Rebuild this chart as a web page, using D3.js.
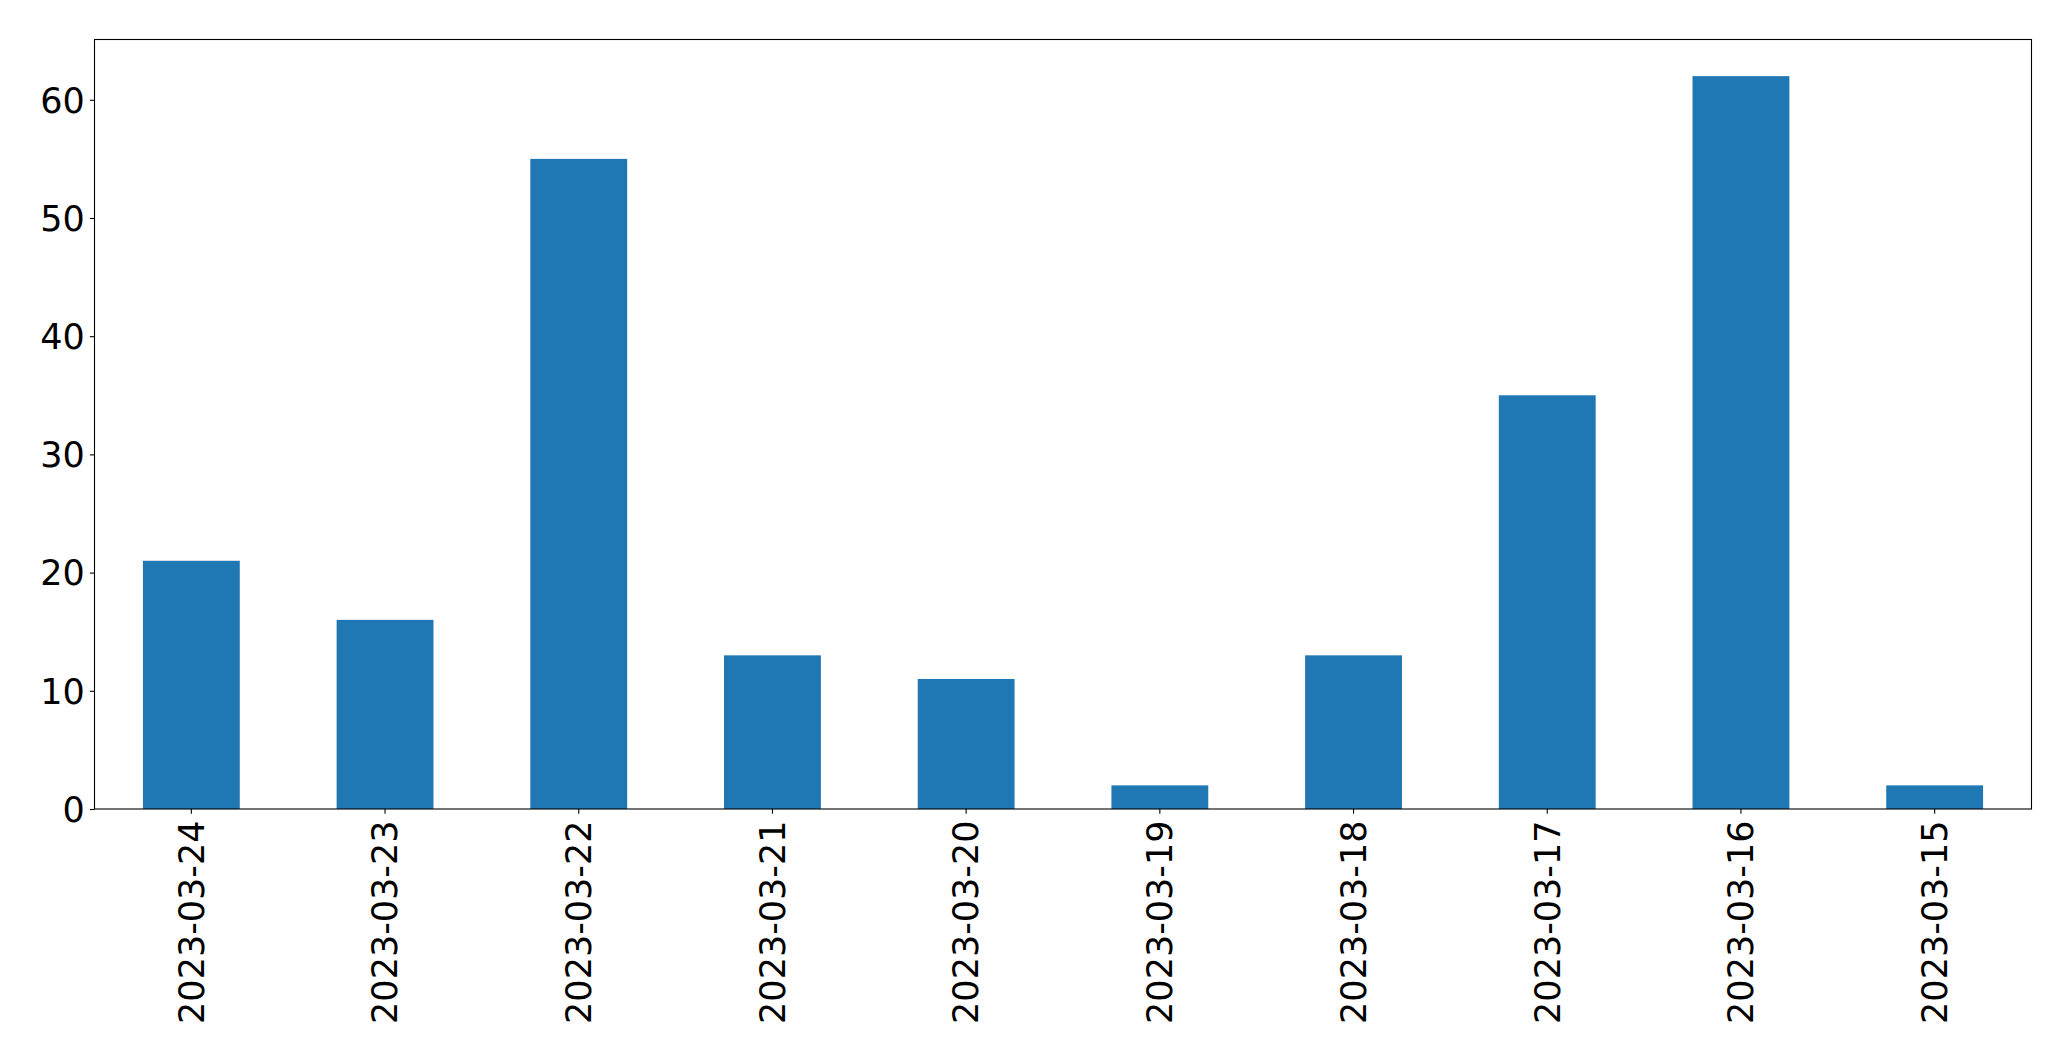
<!DOCTYPE html>
<html>
<head>
<meta charset="utf-8">
<script src="https://cdn.jsdelivr.net/npm/d3@7"></script>
<style>
html,body{margin:0;padding:0;background:#fff;}
svg{display:block;}
text{font-family:"DejaVu Sans",sans-serif;fill:#000;}
</style>
</head>
<body>
<svg id="chart" width="2071" height="1061"></svg>
<script>
const categories = ["2023-03-24","2023-03-23","2023-03-22","2023-03-21","2023-03-20","2023-03-19","2023-03-18","2023-03-17","2023-03-16","2023-03-15"];
const values = [21, 16, 55, 13, 11, 2, 13, 35, 62, 2];
const yTicks = [0, 10, 20, 30, 40, 50, 60];

const W = 2071, H = 1061;
const mLeft = 94.5, mRight = 2031.5, mTop = 39.5, mBottom = 809;
const svg = d3.select("#chart");

const x = d3.scaleBand().domain(categories).range([mLeft, mRight]).paddingInner(0.5).paddingOuter(0.25);
const yMax = d3.max(values) * 1.05;
const y = d3.scaleLinear().domain([0, yMax]).range([mBottom, mTop]);

svg.append("g").selectAll("rect").data(values).join("rect")
  .attr("x", (d, i) => x(categories[i]))
  .attr("width", x.bandwidth())
  .attr("y", d => y(d))
  .attr("height", d => y(0) - y(d))
  .attr("fill", "#1f77b4");

const fs = "35px";
const yAxis = d3.axisLeft(y).tickValues(yTicks).tickSize(4.7).tickPadding(5).tickFormat(d3.format("d"));
const gy = svg.append("g").attr("transform", `translate(${mLeft},0)`).call(yAxis);
gy.select(".domain").remove();
gy.selectAll("line").attr("stroke", "#000").attr("stroke-width", 1.1);
gy.selectAll("text").style("font-size", fs).attr("dy", "0.35em");

const xAxis = d3.axisBottom(x).tickSize(4.7).tickPadding(5);
const gx = svg.append("g").attr("transform", `translate(0,${mBottom})`).call(xAxis);
gx.select(".domain").remove();
gx.selectAll("line").attr("stroke", "#000").attr("stroke-width", 1.1);
gx.selectAll("text")
  .style("font-size", fs)
  .attr("text-anchor", "end")
  .attr("transform", "rotate(-90)")
  .attr("x", -11.5)
  .attr("y", 0)
  .attr("dy", "0.35em");

svg.append("rect")
  .attr("x", mLeft).attr("y", mTop)
  .attr("width", mRight - mLeft).attr("height", mBottom - mTop)
  .attr("fill", "none").attr("stroke", "#000").attr("stroke-width", 1.1);
</script>
</body>
</html>
